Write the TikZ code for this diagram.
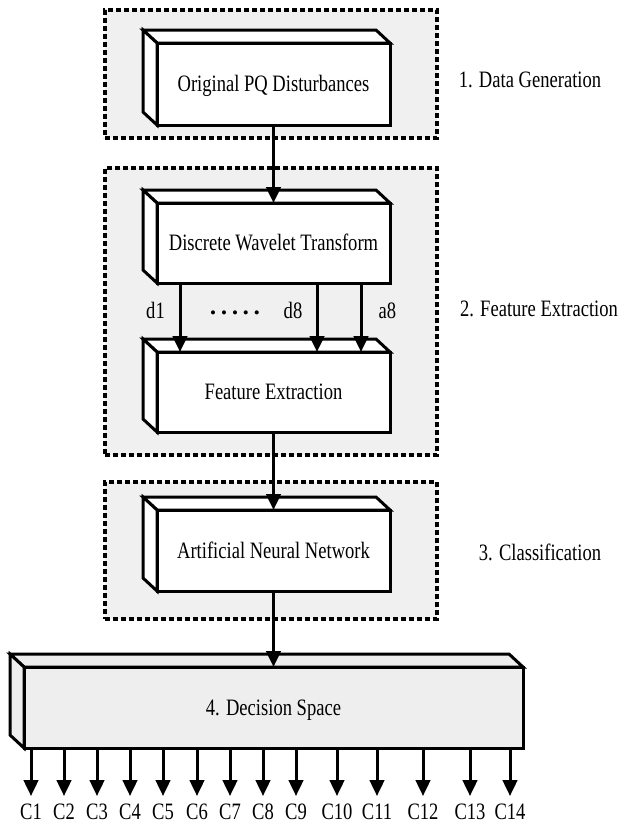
\documentclass[tikz,border=0pt]{standalone}
\usepackage{fontspec}
\usepackage{graphicx}
\setmainfont[FakeStretch=0.79]{Liberation Serif}
\newfontfamily\plainserif{Liberation Serif}
\usetikzlibrary{arrows.meta}
\definecolor{grp}{HTML}{F0F0F0}
\definecolor{dsf}{HTML}{EEEEEE}
\newcommand\dface[2]{%
  \draw[face, fill=#2] (#1.north west) -- ++(-14,-13) -- ([shift={(-14,-13)}]#1.north east) -- (#1.north east) -- cycle;
  \draw[face, fill=#2] (#1.north west) -- ++(-14,-13) -- ([shift={(-14,-13)}]#1.south west) -- (#1.south west) -- cycle;}
\begin{document}
\begin{tikzpicture}[x=1pt,y=-1pt,
  font=\fontsize{23.5}{26}\selectfont,
  group/.style={draw, line width=3.1pt, dash pattern=on 5pt off 3pt, fill=grp, inner sep=0pt, outer sep=0pt},
  front/.style={draw, line width=3pt, fill=white, inner sep=0pt, outer sep=0pt, minimum width=233pt, text height=15.5pt, text depth=0pt},
  face/.style={draw, line width=3pt, line join=miter},
  arr/.style={line width=3pt, -{Triangle[length=16pt,width=14.5pt]}},
  lab/.style={inner sep=0pt, text height=15.5pt, text depth=0pt}]
\useasboundingbox (0,0) rectangle (619,823);
% dashed groups
\node[group, minimum width=332pt, minimum height=128pt] (g1) at (271,74) {};
\node[group, minimum width=332pt, minimum height=287pt] (g2) at (271,311.5) {};
\node[group, minimum width=332pt, minimum height=137pt] (g3) at (271,550.5) {};
% boxes
\node[front, minimum height=82pt] (pq) at (273.5,84) {Original PQ Disturbances};
\dface{pq}{white}
\node[front, minimum height=80pt] (dwt) at (273.5,243) {Discrete Wavelet Transform};
\dface{dwt}{white}
\node[front, minimum height=80pt] (fex) at (273.5,392) {Feature Extraction};
\dface{fex}{white}
\node[front, minimum height=81pt] (ann) at (273.5,550.5) {Artificial Neural Network};
\dface{ann}{white}
\node[front, fill=dsf, minimum width=499pt, minimum height=81pt] (ds) at (273.5,707.5) {4. Decision Space};
\dface{ds}{dsf}
% arrows
\draw[arr] (pq.south) -- (dwt.north);
\draw[arr] ([xshift=23pt]dwt.south west) -- ([xshift=23pt]fex.north west);
\draw[arr] ([xshift=160pt]dwt.south west) -- ([xshift=160pt]fex.north west);
\draw[arr] ([xshift=204pt]dwt.south west) -- ([xshift=204pt]fex.north west);
\draw[arr] (fex.south) -- (ann.north);
\draw[arr] (ann.south) -- (ds.north);
% labels
\node[lab] (ld1) at (155.5,311) {d1};
\node[inner sep=0pt] (dots) at (235,315) {\plainserif\fontsize{17}{17}\selectfont •\hspace{5pt}•\hspace{5pt}•\hspace{5pt}•\hspace{5pt}•};
\node[lab] (ld8) at (293,311) {d8};
\node[lab] (la8) at (387.5,311) {a8};
\node[lab] (l1) at (530,80) {1. Data Generation};
\node[lab] (l2) at (539,309) {2. Feature Extraction};
\node[lab] (l3) at (540,553) {3. Classification};
% outputs
\foreach \x [count=\i] in {31,64,97,130,163,197,230,263,296,337,377,423,470,510} {
  \coordinate (o\i) at (\x,796);
  \draw[arr] (ds.south -| o\i) -- (o\i);
  \node[lab] (c\i) at (\x,812) {C\i};
}
\end{tikzpicture}
\end{document}
